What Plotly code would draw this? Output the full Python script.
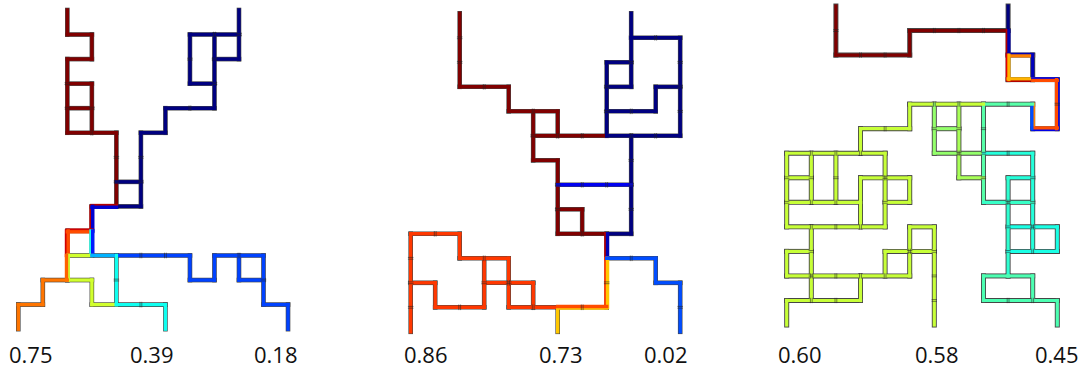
import plotly.graph_objects as go

# ---------------- data ----------------
# Each path: (value or [value_top/left, value_bottom/right], list of grid nodes (col,row)); row 0 = top
P1_PATHS = [
    (1.0, [(2, 0), (2, 1), (3, 1), (3, 2), (2, 2), (2, 5), (4, 5), (4, 8)]),
    (1.0, [(2, 3), (3, 3), (3, 5)]),
    (1.0, [(2, 4), (3, 4)]),
    (0.0, [(9, 0), (9, 2), (8, 2)]),
    (0.0, [(7, 1), (9, 1)]),
    (0.0, [(7, 1), (7, 3), (8, 3)]),
    (0.0, [(8, 1), (8, 4), (6, 4), (6, 5), (5, 5), (5, 8), (4, 8)]),
    (0.0, [(4, 7), (5, 7)]),
    ([0.95, 0.08], [(4, 8), (3, 8), (3, 9)]),
    ([0.92, 0.8], [(3, 9), (2, 9), (2, 10)]),
    ([0.4, 0.15], [(3, 9), (3, 10)]),
    (0.58, [(2, 10), (3, 10)]),
    (0.3, [(3, 10), (4, 10)]),
    (0.19, [(4, 10), (7, 10), (7, 11), (8, 11), (8, 10), (10, 10), (10, 12), (11, 12), (11, 13)]),
    (0.19, [(9, 10), (9, 11), (10, 11)]),
    (0.39, [(4, 10), (4, 12), (6, 12), (6, 13)]),
    ([0.78, 0.58], [(2, 10), (2, 11)]),
    (0.76, [(2, 11), (1, 11), (1, 12), (0, 12), (0, 13)]),
    (0.58, [(2, 11), (3, 11), (3, 12), (4, 12)]),
]

P2_PATHS = [
    (1.0, [(2, 0), (2, 3), (4, 3), (4, 4), (6, 4), (6, 5)]),
    (1.0, [(5, 4), (5, 6), (6, 6), (6, 9), (8, 9)]),
    (1.0, [(5, 5), (8, 5)]),
    (1.0, [(6, 8), (7, 8), (7, 9)]),
    (0.0, [(9, 0), (9, 1), (11, 1), (11, 5), (8, 5), (8, 2), (9, 2)]),
    (0.0, [(9, 1), (9, 3), (8, 3)]),
    (0.0, [(11, 3), (10, 3), (10, 4), (8, 4)]),
    (0.0, [(9, 5), (9, 9), (8, 9)]),
    (0.11, [(6, 7), (9, 7)]),
    ([0.95, 0.05], [(8, 9), (8, 10)]),
    ([0.82, 0.68], [(8, 10), (8, 12)]),
    ([0.8, 0.68], [(6, 12), (8, 12)]),
    (0.68, [(6, 12), (6, 13)]),
    (0.2, [(8, 10), (10, 10), (10, 11), (11, 11), (11, 13)]),
    (0.82, [(6, 12), (4, 12), (4, 10), (2, 10), (2, 9), (0, 9), (0, 13)]),
    (0.82, [(5, 12), (5, 11), (3, 11)]),
    (0.82, [(3, 10), (3, 12), (1, 12), (1, 11), (0, 11)]),
]

P3_PATHS = [
    (1.0, [(2, 0), (2, 2), (5, 2), (5, 1), (9, 1)]),
    (0.0, [(9, 0), (9, 1)]),
    ([0.95, 0.05], [(9, 1), (9, 2)]),
    ([0.05, 0.75], [(9, 2), (10, 2)]),
    (0.06, [(10, 2), (10, 3)]),
    ([0.9, 0.7], [(9, 2), (9, 3)]),
    ([0.7, 0.95], [(9, 3), (10, 3)]),
    ([0.1, 0.8], [(10, 3), (11, 3)]),
    ([0.8, 0.1], [(11, 3), (11, 5)]),
    ([0.8, 0.1], [(10, 5), (11, 5)]),
    ([0.2, 0.75], [(10, 4), (10, 5)]),
    (0.46, [(8, 4), (10, 4)]),
    (0.57, [(5, 4), (8, 4)]),
    (0.57, [(5, 4), (5, 5), (3, 5), (3, 6)]),
    (0.52, [(6, 4), (6, 6), (8, 6)]),
    (0.52, [(6, 5), (7, 5)]),
    (0.54, [(7, 4), (7, 7), (8, 7)]),
    (0.46, [(8, 4), (8, 8)]),
    (0.41, [(8, 6), (10, 6), (10, 10)]),
    (0.41, [(9, 7), (10, 7)]),
    (0.42, [(9, 7), (9, 11)]),
    (0.43, [(8, 8), (10, 8)]),
    (0.4, [(9, 9), (11, 9), (11, 10), (9, 10)]),
    (0.45, [(9, 11), (8, 11), (8, 12), (11, 12), (11, 13)]),
    (0.45, [(9, 11), (10, 11), (10, 12)]),
    (0.57, [(0, 6), (4, 6), (4, 9), (0, 9), (0, 6)]),
    (0.57, [(1, 6), (1, 8)]),
    (0.57, [(2, 6), (2, 8)]),
    (0.57, [(0, 7), (1, 7)]),
    (0.57, [(0, 8), (3, 8), (3, 7), (5, 7), (5, 8), (4, 8)]),
    (0.57, [(3, 8), (3, 9)]),
    (0.57, [(1, 9), (1, 12)]),
    (0.57, [(0, 10), (1, 10)]),
    (0.57, [(0, 10), (0, 11)]),
    (0.57, [(0, 11), (5, 11), (5, 9), (6, 9), (6, 13)]),
    (0.57, [(4, 10), (6, 10)]),
    (0.57, [(4, 10), (4, 11)]),
    (0.57, [(3, 11), (3, 12), (0, 12), (0, 13)]),
]

P1_LABELS = ["0.75", "0.39", "0.18"]
P2_LABELS = ["0.86", "0.73", "0.02"]
P3_LABELS = ["0.60", "0.58", "0.45"]

# ---------------- layout constants ----------------
W, H = 1086, 369
PANELS = [
    dict(paths=P1_PATHS, labels=P1_LABELS, lab_x=[0.5, 5.47, 10.5],
         x0=18.3, sx=24.52, y0=10.0, sy=24.55, dom=(0, 362), ow=4.6, iw=3.4),
    dict(paths=P2_PATHS, labels=P2_LABELS, lab_x=[0.62, 6.13, 10.4],
         x0=410.7, sx=24.5, y0=13.3, sy=24.5, dom=(362, 740), ow=4.6, iw=3.4),
    dict(paths=P3_PATHS, labels=P3_LABELS, lab_x=[0.54, 6.1, 11.0],
         x0=786.7, sx=24.6, y0=6.0, sy=24.54, dom=(740, 1086), ow=5.0, iw=3.2),
]
LABEL_Y_PX = 353.5
OUT_COLOR = "rgb(70,70,70)"
TICK_COLOR = "rgba(35,35,35,0.7)"


def jet(v):
    def c(t):
        return min(max(t, 0.0), 1.0)
    r = c(1.5 - abs(4 * v - 3))
    g = c(1.5 - abs(4 * v - 2))
    b = c(1.5 - abs(4 * v - 1))
    return f"rgb({round(255*r)},{round(255*g)},{round(255*b)})"


fig = go.Figure()
annotations = []

for i, p in enumerate(PANELS):
    xa = "x" if i == 0 else f"x{i+1}"
    ya = "y" if i == 0 else f"y{i+1}"
    sx, sy = p["sx"], p["sy"]
    OUT_W, IN_W = p["ow"], p["iw"]
    ex_out, ey_out = (OUT_W / 2) / sx, (OUT_W / 2) / sy
    ex_in, ey_in = (IN_W / 2) / sx, (IN_W / 2) / sy

    ox, oy = [], []
    groups = {}
    tick_h = ([], [])   # ticks on horizontal runs (vertical tick marks)
    tick_v = ([], [])   # ticks on vertical runs (horizontal tick marks)
    for val, nodes in p["paths"]:
        vals = val if isinstance(val, list) else [val]
        n = len(vals)
        for (a, b) in zip(nodes[:-1], nodes[1:]):
            (c1, r1), (c2, r2) = a, b
            horiz = (r1 == r2)
            if horiz:
                lo, hi = min(c1, c2), max(c1, c2)
                ox += [lo - ex_out, hi + ex_out, None]
                oy += [r1, r1, None]
                for m in range(lo + 1, hi):
                    for d in (-0.9, 0.9):
                        tick_h[0].append(m + d / sx)
                        tick_h[1].append(r1)
            else:
                lo, hi = min(r1, r2), max(r1, r2)
                ox += [c1, c1, None]
                oy += [lo - ey_out, hi + ey_out, None]
                for m in range(lo + 1, hi):
                    for d in (-0.9, 0.9):
                        tick_v[0].append(c1)
                        tick_v[1].append(m + d / sy)
            for k, v in enumerate(vals):
                off_px = (k - (n - 1) / 2) * (IN_W / n)
                col = jet(v)
                gx, gy = groups.setdefault(col, ([], []))
                if horiz:
                    yy = r1 + off_px / sy
                    gx += [lo - ex_in, hi + ex_in, None]
                    gy += [yy, yy, None]
                else:
                    xx = c1 + off_px / sx
                    gx += [xx, xx, None]
                    gy += [lo - ey_in, hi + ey_in, None]

    fig.add_trace(go.Scatter(x=ox, y=oy, mode="lines", xaxis=xa, yaxis=ya,
                             line=dict(color=OUT_COLOR, width=OUT_W),
                             hoverinfo="skip", showlegend=False))
    for col, (gx, gy) in groups.items():
        fig.add_trace(go.Scatter(x=gx, y=gy, mode="lines", xaxis=xa, yaxis=ya,
                                 line=dict(color=col, width=IN_W),
                                 hoverinfo="skip", showlegend=False))
    for (tx, ty), sym in ((tick_h, "line-ns"), (tick_v, "line-ew")):
        fig.add_trace(go.Scatter(x=tx, y=ty, mode="markers", xaxis=xa, yaxis=ya,
                                 marker=dict(symbol=sym, size=IN_W + 0.6,
                                             line=dict(color=TICK_COLOR, width=0.8)),
                                 hoverinfo="skip", showlegend=False))

    d0, d1 = p["dom"]
    xr = [(d0 - p["x0"]) / sx, (d1 - p["x0"]) / sx]
    yr = [(H - p["y0"]) / sy, (0 - p["y0"]) / sy]
    axis_common = dict(visible=False, showgrid=False, zeroline=False, fixedrange=True)
    fig.update_layout(**{
        ("xaxis" if i == 0 else f"xaxis{i+1}"): dict(domain=[d0 / W, d1 / W], range=xr,
                                                     anchor=ya, **axis_common),
        ("yaxis" if i == 0 else f"yaxis{i+1}"): dict(domain=[0, 1], range=yr,
                                                     anchor=xa, **axis_common),
    })
    lab_row = (LABEL_Y_PX - p["y0"]) / sy
    for txt, lx in zip(p["labels"], p["lab_x"]):
        annotations.append(dict(x=lx, y=lab_row, xref=xa, yref=ya, text=txt,
                                showarrow=False, xanchor="center", yanchor="middle",
                                borderpad=0,
                                font=dict(family="Open Sans", size=22, color="#111")))

fig.update_layout(width=W, height=H, margin=dict(l=0, r=0, t=0, b=0),
                  paper_bgcolor="white", plot_bgcolor="white",
                  annotations=annotations)
fig.write_html("out.html", config={"displayModeBar": False},
               post_script="document.body.style.margin='0px';document.body.style.overflow='hidden';")
